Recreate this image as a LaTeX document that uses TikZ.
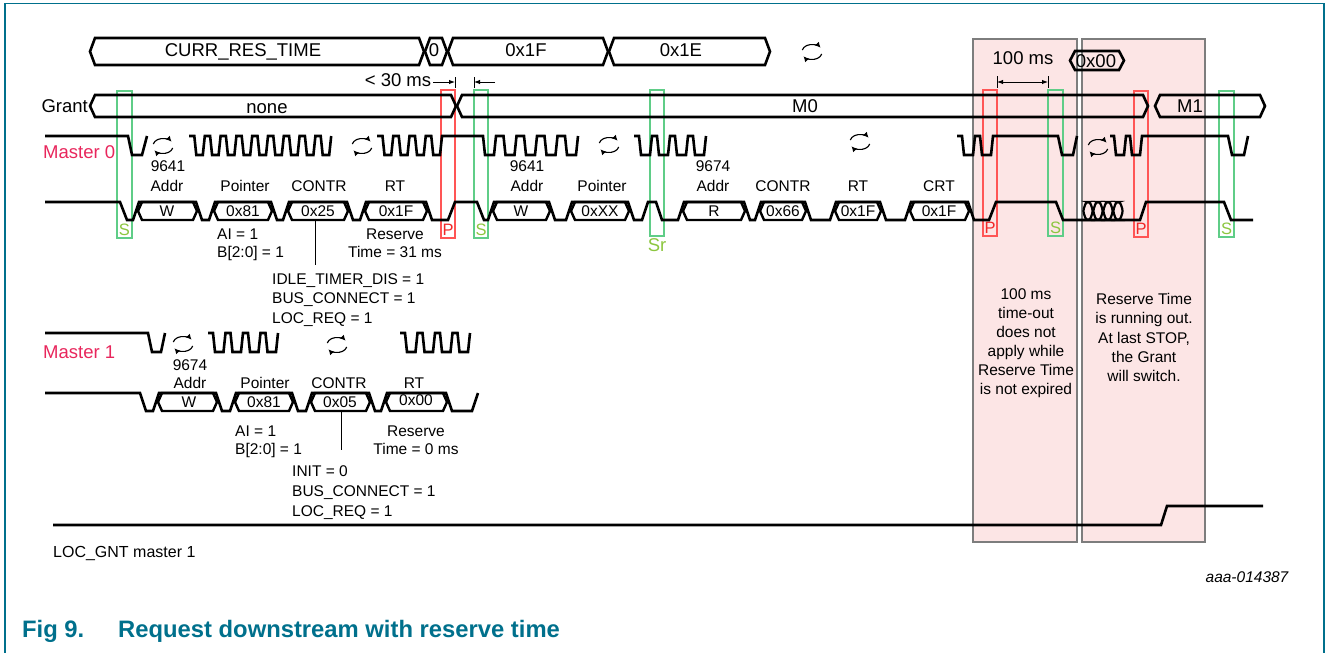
\documentclass[tikz,border=0pt]{standalone}
\usepackage{fontspec}
\setmainfont{Liberation Sans}
\usetikzlibrary{arrows.meta}
\definecolor{frameC}{RGB}{0,112,140}
\definecolor{pinkF}{RGB}{252,229,229}
\definecolor{pinkD}{RGB}{125,125,125}
\definecolor{pLine}{RGB}{255,85,85}
\definecolor{pText}{RGB}{240,40,40}
\definecolor{sLine}{RGB}{95,205,135}
\definecolor{sText}{RGB}{140,198,63}
\definecolor{mText}{RGB}{232,38,92}
\newcommand\fs[1]{\fontsize{#1}{#1}\selectfont}
\tikzset{
  sig/.style={line width=2.6pt, line join=miter},
  busl/.style={line width=2.6pt, line join=miter},
  boxl/.style={line width=2.4pt, line join=miter},
  thinl/.style={line width=1pt},
  pl/.style={pLine, line width=1.2pt},
  gl/.style={sLine, line width=1.2pt},
  txt/.style={inner sep=0pt, font=\fs{15.5}, text height=11.1pt, text depth=0pt},
  big/.style={inner sep=0pt, font=\fs{18.5}, text height=13.3pt, text depth=0pt},
  lt/.style={inner sep=0pt, font=\fs{16.5}, text height=11.8pt, text depth=0pt},
  arr/.style={line width=1pt, -{Latex[length=6pt,width=4.5pt]}},
  cyctip/.style={line width=1.15pt, -{Latex[length=5.5pt,width=5.5pt]}},
  cyc/.pic={
    \draw[cyctip] (-9.7,-2) arc[start angle=192,end angle=328,x radius=10,y radius=7];
    \draw[cyctip] (9.7,2) arc[start angle=12,end angle=148,x radius=10,y radius=7];
  }
}
\newcommand\busseg[4]{%
  \draw[busl] (#1+5,#3) -- (#2-5,#3) -- (#2,{(#3+#4)/2}) -- (#2-5,#4) -- (#1+5,#4) -- (#1,{(#3+#4)/2}) -- cycle;}
\newcommand\dbox[4]{%
  \draw[boxl] (#1+4,#3) -- (#2-4,#3) -- (#2,{(#3+#4)/2}) -- (#2-4,#4) -- (#1+4,#4) -- (#1,{(#3+#4)/2}) -- cycle;}
\newcommand\redmark[6]{%
  \draw[pl] (#2,#4) rectangle (#3,#5);
  \node[lt, text=pText] (#1) at ({(#2+#3)/2},#5-8.5) {#6};}
\newcommand\greenmark[6]{%
  \draw[gl] (#2,#4) rectangle (#3,#5);
  \node[lt, text=sText] (#1) at ({(#2+#3)/2},#5-8.5) {#6};}
\begin{document}
\begin{tikzpicture}[x=1pt,y=-1pt]
\useasboundingbox (0,0) rectangle (1328,653);
% frame
\draw[frameC, line width=1.6pt] (5,653) -- (5,3.5) -- (1324,3.5) -- (1324,653);
% pink areas
\draw[pinkD, fill=pinkF, line width=1.3pt] (973,39) rectangle (1077,542);
\draw[pinkD, fill=pinkF, line width=1.3pt] (1082,39) rectangle (1205,542);
% start / stop markers
\greenmark{mS1}{117}{132}{91}{238}{S}
\redmark{mP1}{441}{455}{90}{238}{P}
\greenmark{mS2}{474}{488}{90}{238}{S}
\draw[gl] (650,90) rectangle (664,236);
\node[big, text=sText] (mSr) at (657,245) {Sr};
\redmark{mP2}{983}{997}{90}{236}{P}
\greenmark{mS3}{1048}{1063}{90}{236}{S}
\redmark{mP3}{1134}{1148}{91}{237}{P}
\greenmark{mS4}{1219}{1234}{91}{237}{S}
% top bus
\busseg{90}{424}{38}{65}
\busseg{425}{447}{38}{65}
\busseg{448}{608}{38}{65}
\busseg{609}{770}{38}{65}
\node[big] (bCurr) at (243,50) {CURR\_RES\_TIME};
\node[big] (bZero) at (434,50) {0};
\node[big] (b1F) at (526,50) {0x1F};
\node[big] (b1E) at (681,50) {0x1E};
\pic at (812,52) {cyc};
% 0x00 bus
\busseg{1070}{1124}{51}{70}
\node[big] (b00) at (1096,61) {0x00};
% grant bus
\busseg{90}{456}{95}{117}
\busseg{457}{1148}{95}{117}
\busseg{1155}{1265}{95}{117}
\node[big, anchor=east] (lGrant) at (88,106) {Grant};
\node[big] (gNone) at (267,107) {none};
\node[big] (gM0) at (805,106) {M0};
\node[big] (gM1) at (1190,106) {M1};
% timing annotations
\node[big] (t30) at (398,80) {< 30 ms};
\coordinate (tk1) at (455,82);
\coordinate (tk2) at (474,82);
\coordinate (tk2s) at (495,82);
\draw[arr] (t30.east) ++(2,2) -- (tk1);
\draw[thinl] (455,77) -- (455,88);
\draw[arr] (tk2s) -- (tk2);
\draw[thinl] (474,77) -- (474,88);
\node[big] (t100) at (1023,58) {100 ms};
\coordinate (ha) at (997,82);
\coordinate (hb) at (1048,82);
\draw[line width=1pt, {Latex[length=6pt,width=4.5pt]}-{Latex[length=6pt,width=4.5pt]}] (ha) -- (hb);
\draw[thinl] (997,76) -- (997,88);
\draw[thinl] (1048,76) -- (1048,88);
% row labels
\node[big, anchor=west, text=mText] (lM0) at (43,152) {Master 0};
\node[big, anchor=west, text=mText] (lM1) at (43,352) {Master 1};
% ---------------- Master 0 SCL
\draw[sig] (45,136) -- (128,136) -- (132,155) -- (142,155) -- (147,136);
\draw[sig] (189,136) foreach \k in {1,...,9}{ -- ++(5.3,0) -- ++(2,19) -- ++(6.5,0) -- ++(2,-19)};
\draw[sig] (377,136) foreach \k in {1,...,4}{ -- ++(5.5,0) -- ++(2,19) -- ++(6.75,0) -- ++(2,-19)} -- (475.5,136) foreach \k in {1,...,5}{ -- ++(7.5,0) -- ++(2,19) -- ++(9,0) -- ++(2,-19)};
\draw[sig] (634,136) foreach \k in {1,...,4}{ -- ++(5,0) -- ++(2,19) -- ++(9,0) -- ++(2,-19)};
\draw[sig] (957,136) foreach \k in {1,2}{ -- ++(5,0) -- ++(2,19) -- ++(9,0) -- ++(2,-19)} -- (1058,136) -- (1062,155) -- (1073,155) -- (1077,136);
\draw[sig] (1110,136) foreach \k in {1,2}{ -- ++(4,0) -- ++(2,19) -- ++(8,0) -- ++(2,-19)} -- (1228,136) -- (1232,155) -- (1244,155) -- (1248,136);
\pic at (163,146) {cyc};
\pic at (362,146) {cyc};
\pic at (609,145) {cyc};
\pic at (860,142) {cyc};
\pic at (1098,147) {cyc};
% ---------------- Master 0 SDA
\draw[sig] (45,202) -- (120,202) -- (127,220)
 -- (133,220) -- (139,202) -- (196,202) -- (202,220)
 -- (209,220) -- (215,202) -- (271,202) -- (277,220)
 -- (283,220) -- (289,202) -- (347,202) -- (353,220)
 -- (360,220) -- (366,202) -- (426,202) -- (432,220)
 -- (448,220) -- (455,202) -- (477,202) -- (484,220)
 -- (488,220) -- (494,202) -- (549,202) -- (555,220)
 -- (566,220) -- (572,202) -- (628,202) -- (634,220)
 -- (642,220) -- (648,202) -- (656,202) -- (662,220)
 -- (678,220) -- (684,202) -- (744,202) -- (750,220)
 -- (755,220) -- (761,202) -- (805,202) -- (811,220)
 -- (830,220) -- (836,202) -- (880,202) -- (886,220)
 -- (905,220) -- (911,202) -- (968,202) -- (974,220)
 -- (989,220) -- (996,202) -- (1056,202) -- (1063,220)
 -- (1140,220) -- (1146,202) -- (1224,202) -- (1231,220) -- (1253,220);
\foreach \xa in {1083,1093,1103,1113}
  \draw[line width=2.2pt, rounded corners=2.5pt] (\xa+3,202) -- (\xa+7,202) -- (\xa+10,211) -- (\xa+7,220) -- (\xa+3,220) -- (\xa,211) -- cycle;
\dbox{138}{197}{202}{220}
\dbox{214}{272}{202}{220}
\dbox{288}{348}{202}{220}
\dbox{365}{427}{202}{220}
\dbox{493}{550}{202}{220}
\dbox{571}{629}{202}{220}
\dbox{683}{745}{202}{220}
\dbox{760}{806}{202}{220}
\dbox{835}{881}{202}{220}
\dbox{910}{969}{202}{220}
\node[txt] (d1) at (167,211) {W};
\node[txt] (d2) at (243,211) {0x81};
\node[txt] (d3) at (318,211) {0x25};
\node[txt] (d4) at (396,211) {0x1F};
\node[txt] (d5) at (521,211) {W};
\node[txt] (d6) at (600,211) {0xXX};
\node[txt] (d7) at (714,211) {R};
\node[txt] (d8) at (783,211) {0x66};
\node[txt] (d9) at (858,211) {0x1F};
\node[txt] (d10) at (939,211) {0x1F};
\node[txt] (a1) at (168,166) {9641};
\node[txt] (a2) at (167,186) {Addr};
\node[txt] (a3) at (245,186) {Pointer};
\node[txt] (a4) at (319,186) {CONTR};
\node[txt] (a5) at (395,186) {RT};
\node[txt] (a6) at (527,166) {9641};
\node[txt] (a7) at (527,186) {Addr};
\node[txt] (a8) at (602,186) {Pointer};
\node[txt] (a9) at (713,166) {9674};
\node[txt] (a10) at (713,186) {Addr};
\node[txt] (a11) at (783,186) {CONTR};
\node[txt] (a12) at (858,186) {RT};
\node[txt] (a13) at (939,186) {CRT};
% notes master 0
\coordinate (v0a) at (315,220);
\coordinate (v0b) at (315,265);
\draw[thinl] (v0a) -- (v0b);
\node[txt, anchor=west] (n1) at (217,234) {AI = 1};
\node[txt, anchor=west] (n2) at (217,252) {B[2:0] = 1};
\node[txt] (n3) at (395,234) {Reserve};
\node[txt] (n4) at (395,252) {Time = 31 ms};
\node[txt, anchor=west] (n5) at (272,279) {IDLE\_TIMER\_DIS = 1};
\node[txt, anchor=west] (n6) at (272,298) {BUS\_CONNECT = 1};
\node[txt, anchor=west] (n7) at (272,318) {LOC\_REQ = 1};
% ---------------- Master 1 SCL
\draw[sig] (45,333) -- (148,333) -- (152,352) -- (161,352) -- (165,333);
\draw[sig] (208,333) foreach \k in {1,...,4}{ -- ++(5,0) -- ++(2,19) -- ++(8.5,0) -- ++(2,-19)};
\draw[sig] (400,333) foreach \k in {1,...,4}{ -- ++(5,0) -- ++(2,19) -- ++(8.5,0) -- ++(2,-19)};
\pic at (183,344) {cyc};
\pic at (337,345) {cyc};
% ---------------- Master 1 SDA
\draw[sig] (45,393) -- (140,393) -- (146,411)
 -- (153,411) -- (159,393) -- (216,393) -- (222,411)
 -- (230,411) -- (236,393) -- (292,393) -- (298,411)
 -- (306,411) -- (312,393) -- (369,393) -- (375,411)
 -- (381,411) -- (387,393) -- (446,393) -- (452,411)
 -- (472,411) -- (478,393);
\dbox{158}{217}{393}{411}
\dbox{235}{293}{393}{411}
\dbox{311}{370}{393}{411}
\dbox{386}{447}{393}{411}
\node[txt] (e1) at (189,402) {W};
\node[txt] (e2) at (264,402) {0x81};
\node[txt] (e3) at (340,402) {0x05};
\node[txt] (e4) at (416,400) {0x00};
\node[txt] (c1) at (190,365) {9674};
\node[txt] (c2) at (190,383) {Addr};
\node[txt] (c3) at (265,383) {Pointer};
\node[txt] (c4) at (339,383) {CONTR};
\node[txt] (c5) at (414,383) {RT};
\coordinate (v1a) at (341,411);
\coordinate (v1b) at (341,450);
\draw[thinl] (v1a) -- (v1b);
\node[txt, anchor=west] (m1) at (235,431) {AI = 1};
\node[txt, anchor=west] (m2) at (235,449) {B[2:0] = 1};
\node[txt] (m3) at (416,431) {Reserve};
\node[txt] (m4) at (416,449) {Time = 0 ms};
\node[txt, anchor=west] (m5) at (292,471) {INIT = 0};
\node[txt, anchor=west] (m6) at (292,491) {BUS\_CONNECT = 1};
\node[txt, anchor=west] (m7) at (292,511) {LOC\_REQ = 1};
% ---------------- LOC_GNT
\draw[sig] (53,525) -- (1161,525) -- (1167,506) -- (1263,506);
\node[txt, anchor=west, font=\fs{16}] (lGnt) at (53,552) {LOC\_GNT master 1};
% pink texts
\foreach \t [count=\i] in {100 ms, time-out, does not, apply while, Reserve Time, is not expired}
  \node[txt] (ra\i) at (1026,{293.5+19.1*(\i-1)}) {\t};
\foreach \t [count=\i] in {Reserve Time, is running out., {At last STOP,}, the Grant, will switch.}
  \node[txt] (rb\i) at (1144,{299+19.25*(\i-1)}) {\t};
% id and caption
\node[txt, font=\fs{15.5}\itshape] (fid) at (1247,577) {aaa-014387};
\node[inner sep=0pt, anchor=west, text=frameC, font=\fs{23.8}\bfseries] (cap1) at (22,631) {Fig 9.};
\node[inner sep=0pt, anchor=west, text=frameC, font=\fs{23.8}\bfseries] (cap2) at (118,631) {Request downstream with reserve time};
\end{tikzpicture}
\end{document}
